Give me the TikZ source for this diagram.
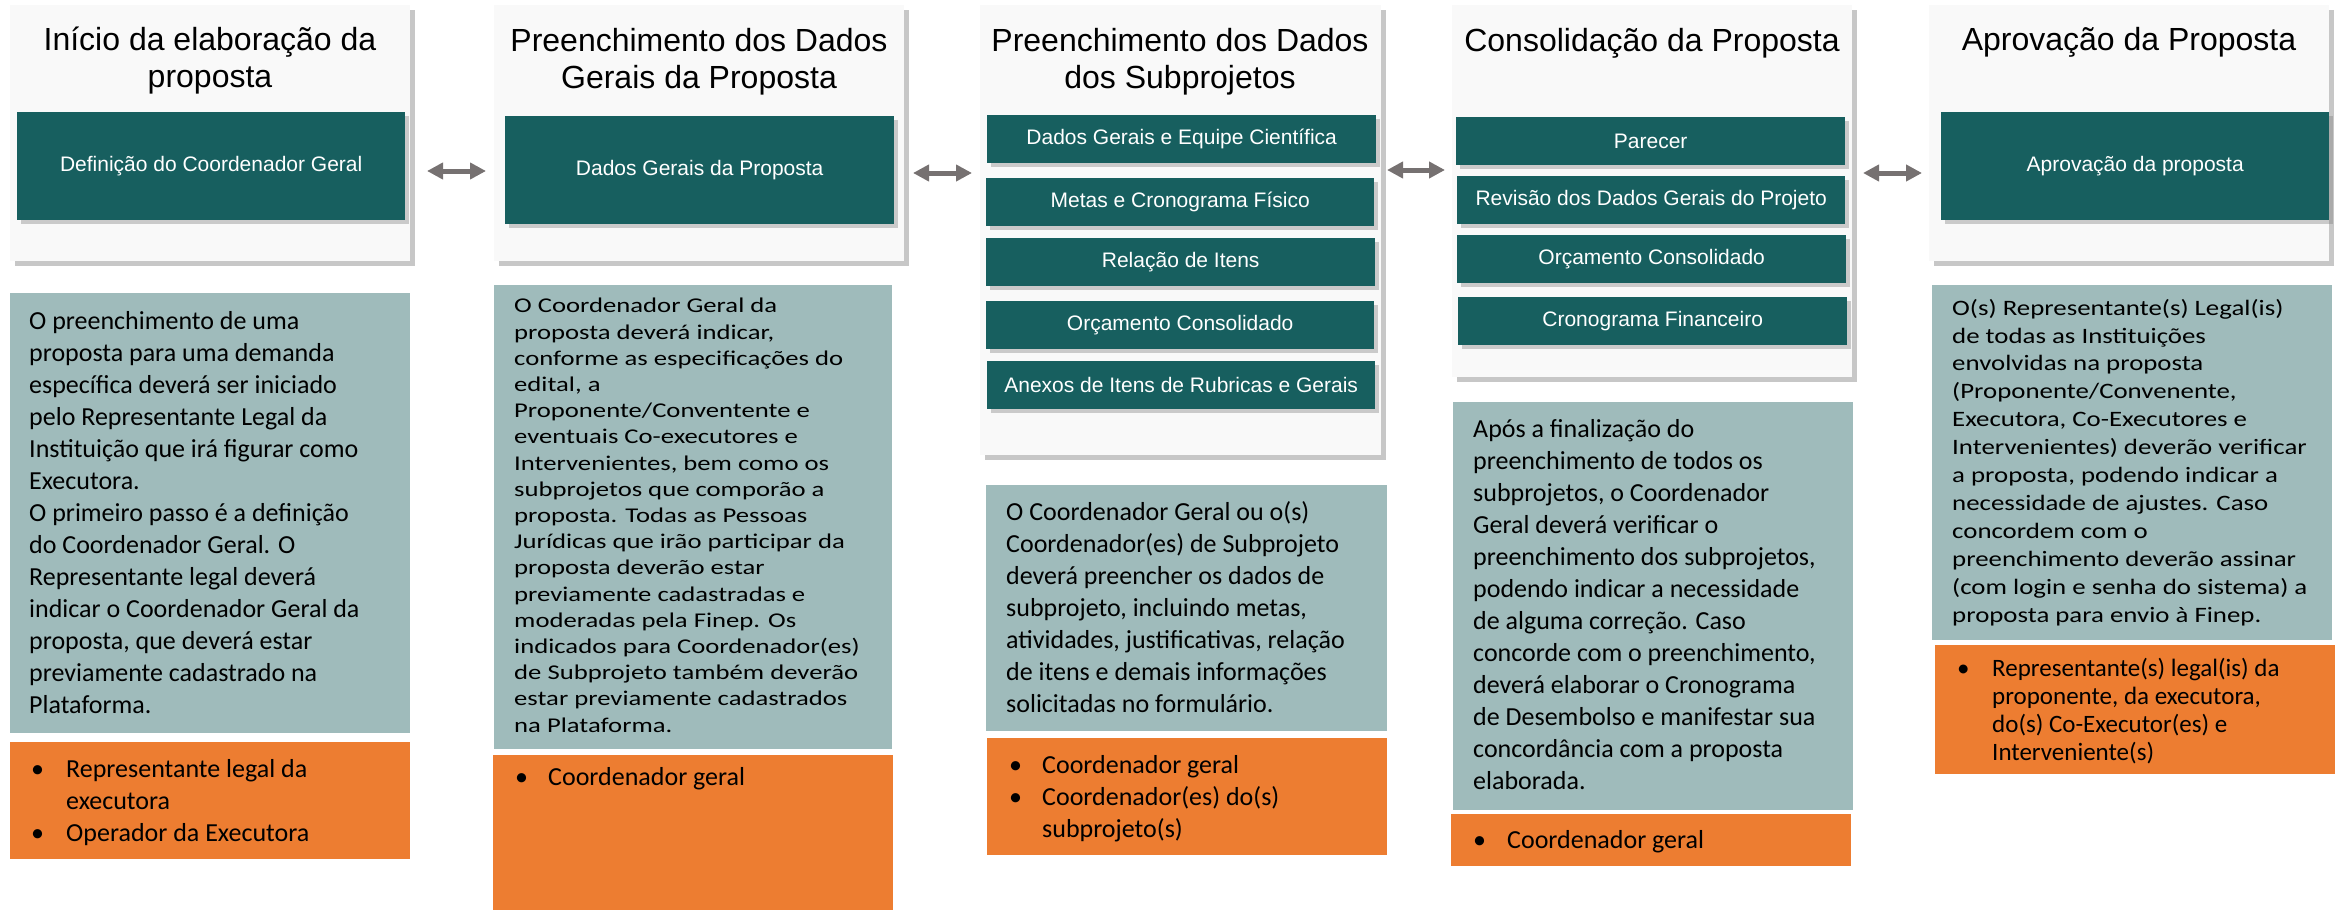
\documentclass[tikz,border=0pt]{standalone}
\usepackage{fontspec}
\setmainfont{Carlito}
\newfontfamily\arialf{Liberation Sans}
\newfontfamily\widea{Carlito}[FakeStretch=1.27]
\newfontfamily\wideb{Carlito}[FakeStretch=1.22]
\usetikzlibrary{arrows.meta,shadows}
\definecolor{tealbg}{HTML}{175F5F}
\definecolor{bluegray}{HTML}{9FBBBB}
\definecolor{orng}{HTML}{ED7D31}
\definecolor{panelbg}{HTML}{F9F9F9}
\definecolor{arrowg}{HTML}{767171}
\tikzset{
  panel/.style={fill=panelbg, draw=none, inner sep=0pt, anchor=north west,
    drop shadow={shadow xshift=5pt, shadow yshift=-5pt, opacity=0.4, fill=black!55}},
  tealbox/.style={fill=tealbg, inner sep=0pt, anchor=north west, text=white,
    font=\arialf\fontsize{21}{25}\selectfont,
    drop shadow={shadow xshift=4pt, shadow yshift=-4pt, opacity=0.35, fill=black!55}},
  infobox/.style={fill=bluegray, inner sep=0pt, anchor=north west},
  rolebox/.style={fill=orng, inner sep=0pt, anchor=north west},
  title/.style={anchor=base, align=center, inner sep=0pt, font=\arialf\fontsize{32}{37}\selectfont},
  body/.style={anchor=base west, align=left, inner sep=0pt, font=\fontsize{26}{32}\selectfont},
  bodywa/.style={anchor=base west, align=left, inner sep=0pt, font=\widea\fontsize{21}{26.2}\selectfont},
  bodywb/.style={anchor=base west, align=left, inner sep=0pt, font=\wideb\fontsize{22}{27.9}\selectfont},
  bodyr/.style={anchor=base west, align=left, inner sep=0pt, font=\fontsize{25}{28}\selectfont},
  link/.style={draw=arrowg, line width=5pt, {Triangle[length=16pt,width=16pt]}-{Triangle[length=16pt,width=16pt]}}
}
\newcommand{\bul}[1]{\makebox[#1][l]{•}}
\begin{document}
\begin{tikzpicture}[x=1pt,y=-1pt]
\useasboundingbox (0,0) rectangle (2348,910);

% ---------- panels ----------
\node[panel, minimum width=400pt, minimum height=256pt] (P1) at (10,5) {};
\node[panel, minimum width=410pt, minimum height=256pt] (P2) at (494,5) {};
\node[panel, minimum width=401pt, minimum height=450pt] (P3) at (980,5) {};
\node[panel, minimum width=400pt, minimum height=372pt] (P4) at (1452,5) {};
\node[panel, minimum width=400pt, minimum height=256pt] (P5) at (1929,5) {};

% ---------- titles (base = last line) ----------
\node[title] (H1) at (210,87) {Início da elaboração da\\proposta};
\node[title] (H2) at (699,88) {Preenchimento dos Dados\\Gerais da Proposta};
\node[title] (H3) at (1180,88) {Preenchimento dos Dados\\dos Subprojetos};
\node[title] (H4) at (1652,51) {Consolidação da Proposta};
\node[title] (H5) at (2129,50) {Aprovação da Proposta};

% ---------- teal boxes ----------
\node[tealbox, minimum width=388pt, minimum height=108pt] (T1) at (17,112) {Definição do Coordenador Geral};
\node[tealbox, minimum width=389pt, minimum height=108pt] (T2) at (505,116) {Dados Gerais da Proposta};
\node[tealbox, minimum width=389pt, minimum height=48pt] (T3a) at (987,115) {Dados Gerais e Equipe Científica};
\node[tealbox, minimum width=388pt, minimum height=48pt] (T3b) at (986,178) {Metas e Cronograma Físico};
\node[tealbox, minimum width=389pt, minimum height=48pt] (T3c) at (986,238) {Relação de Itens};
\node[tealbox, minimum width=388pt, minimum height=48pt] (T3d) at (986,301) {Orçamento Consolidado};
\node[tealbox, minimum width=388pt, minimum height=48pt] (T3e) at (987,361) {Anexos de Itens de Rubricas e Gerais};
\node[tealbox, minimum width=389pt, minimum height=48pt] (T4a) at (1456,117) {Parecer};
\node[tealbox, minimum width=388pt, minimum height=48pt] (T4b) at (1457,176) {Revisão dos Dados Gerais do Projeto};
\node[tealbox, minimum width=389pt, minimum height=48pt] (T4c) at (1457,235) {Orçamento Consolidado};
\node[tealbox, minimum width=389pt, minimum height=48pt] (T4d) at (1458,297) {Cronograma Financeiro};
\node[tealbox, minimum width=388pt, minimum height=108pt] (T5) at (1941,112) {Aprovação da proposta};

% ---------- info boxes ----------
\node[infobox, minimum width=400pt, minimum height=440pt] (I1) at (10,293) {};
\node[infobox, minimum width=398pt, minimum height=464pt] (I2) at (494,285) {};
\node[infobox, minimum width=401pt, minimum height=246pt] (I3) at (986,485) {};
\node[infobox, minimum width=400pt, minimum height=408pt] (I4) at (1453,402) {};
\node[infobox, minimum width=400pt, minimum height=355pt] (I5) at (1932,285) {};

\node[body] (B1) at (29,713) {O preenchimento de uma\\
proposta para uma demanda\\
específica deverá ser iniciado\\
pelo Representante Legal da\\
Instituição que irá figurar como\\
Executora.\\
O primeiro passo é a definição\\
do Coordenador Geral. O\\
Representante legal deverá\\
indicar o Coordenador Geral da\\
proposta, que deverá estar\\
previamente cadastrado na\\
Plataforma.};

\node[bodywa] (B2) at (514,732) {O Coordenador Geral da\\
proposta deverá indicar,\\
conforme as especificações do\\
edital, a\\
Proponente/Conventente e\\
eventuais Co-executores e\\
Intervenientes, bem como os\\
subprojetos que comporão a\\
proposta. Todas as Pessoas\\
Jurídicas que irão participar da\\
proposta deverão estar\\
previamente cadastradas e\\
moderadas pela Finep. Os\\
indicados para Coordenador(es)\\
de Subprojeto também deverão\\
estar previamente cadastrados\\
na Plataforma.};

\node[body] (B3) at (1006,712) {O Coordenador Geral ou o(s)\\
Coordenador(es) de Subprojeto\\
deverá preencher os dados de\\
subprojeto, incluindo metas,\\
atividades, justificativas, relação\\
de itens e demais informações\\
solicitadas no formulário.};

\node[body] (B4) at (1473,789) {Após a finalização do\\
preenchimento de todos os\\
subprojetos, o Coordenador\\
Geral deverá verificar o\\
preenchimento dos subprojetos,\\
podendo indicar a necessidade\\
de alguma correção. Caso\\
concorde com o preenchimento,\\
deverá elaborar o Cronograma\\
de Desembolso e manifestar sua\\
concordância com a proposta\\
elaborada.};

\node[bodywb] (B5) at (1952,622) {O(s) Representante(s) Legal(is)\\
de todas as Instituições\\
envolvidas na proposta\\
(Proponente/Convenente,\\
Executora, Co-Executores e\\
Intervenientes) deverão verificar\\
a proposta, podendo indicar a\\
necessidade de ajustes. Caso\\
concordem com o\\
preenchimento deverão assinar\\
(com login e senha do sistema) a\\
proposta para envio à Finep.};

% ---------- role boxes ----------
\node[rolebox, minimum width=400pt, minimum height=117pt] (O1) at (10,742) {};
\node[rolebox, minimum width=400pt, minimum height=155pt] (O2) at (493,755) {};
\node[rolebox, minimum width=400pt, minimum height=117pt] (O3) at (987,738) {};
\node[rolebox, minimum width=400pt, minimum height=52pt] (O4) at (1451,814) {};
\node[rolebox, minimum width=400pt, minimum height=129pt] (O5) at (1935,645) {};

\node[body] (R1) at (31,841) {\bul{35pt}Representante legal da\\
\hspace*{35pt}executora\\
\bul{35pt}Operador da Executora};
\node[body] (R2) at (515,785) {\bul{33pt}Coordenador geral};
\node[body] (R3) at (1009,837) {\bul{33pt}Coordenador geral\\
\bul{33pt}Coordenador(es) do(s)\\
\hspace*{33pt}subprojeto(s)};
\node[body] (R4) at (1473,848) {\bul{34pt}Coordenador geral};
\node[bodyr] (R5) at (1957,760) {\bul{35pt}Representante(s) legal(is) da\\
\hspace*{35pt}proponente, da executora,\\
\hspace*{35pt}do(s) Co-Executor(es) e\\
\hspace*{35pt}Interveniente(s)};

% ---------- connectors ----------
\coordinate (a1s) at (427,171); \coordinate (a1e) at (486,171);
\coordinate (a2s) at (913,173); \coordinate (a2e) at (972,173);
\coordinate (a3s) at (1387,170); \coordinate (a3e) at (1445,170);
\coordinate (a4s) at (1863,173); \coordinate (a4e) at (1922,173);
\draw[link] (a1s) -- (a1e);
\draw[link] (a2s) -- (a2e);
\draw[link] (a3s) -- (a3e);
\draw[link] (a4s) -- (a4e);
\end{tikzpicture}
\end{document}
